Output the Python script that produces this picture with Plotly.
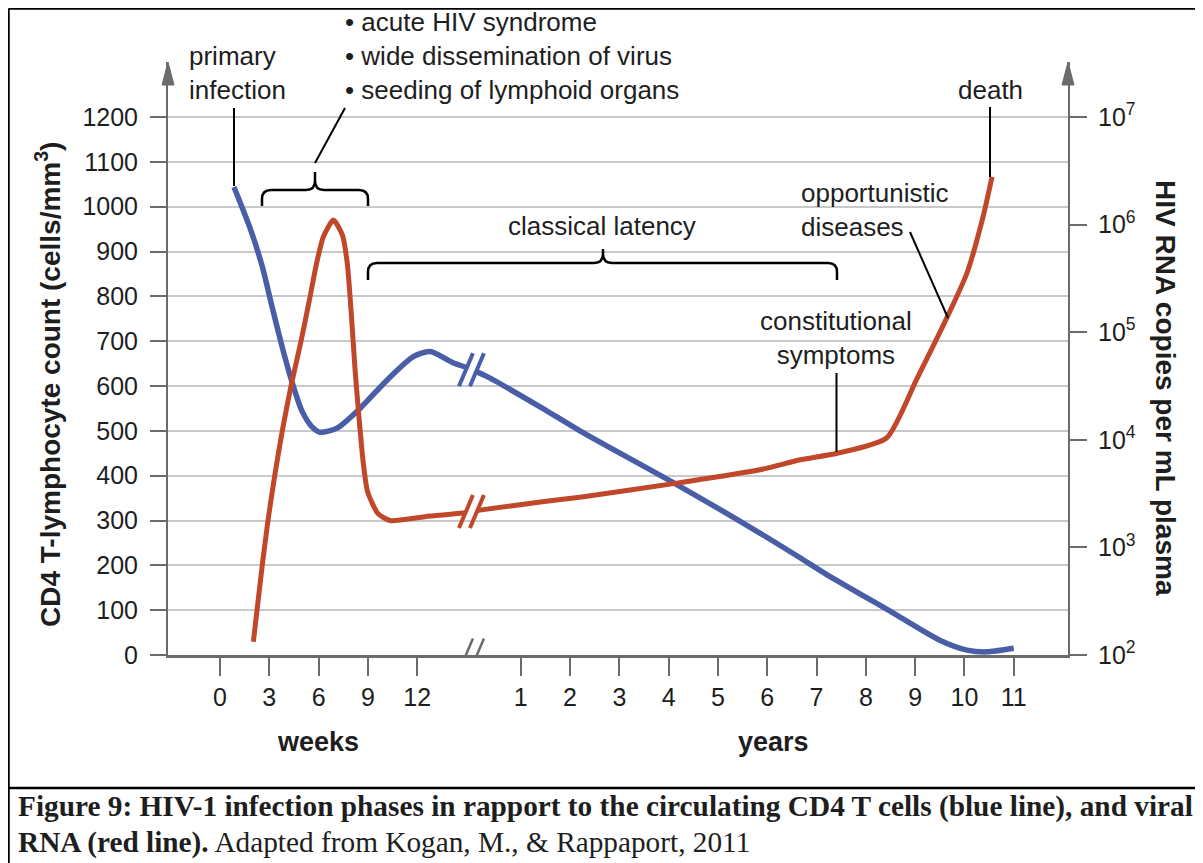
"""HIV-1 infection phases: CD4 T cells vs viral RNA"""

import numpy as np
import plotly.graph_objects as go

# axis ticks
week_ticks = [0, 3, 6, 9, 12]
year_ticks = [1, 2, 3, 4, 5, 6, 7, 8, 9, 10, 11]
cd4_ticks = list(range(0, 1300, 100))
rna_ticks = [1e2, 1e3, 1e4, 1e5, 1e6, 1e7]

# CD4 T-lymphocyte count (cells/mm3) – acute phase in weeks, then years
cd4_weeks = [0.85, 1.83, 2.56, 3.16, 3.77, 4.38, 4.99, 5.6, 6.09, 7.12, 8.52, 10.16, 11.74, 12.78, 14.18, 15.0]
cd4_weeks_count = [1044, 952, 868, 778, 689, 609, 544, 509, 497, 506, 550, 613, 665, 677, 652, 641]
cd4_years = [0.3, 1.4, 2.2, 4.2, 5.85, 6.65, 7.2, 8.55, 9.5, 10.05, 10.45, 11.0]
cd4_years_count = [622, 553, 500, 378, 272, 218, 180, 94, 33, 11, 7, 15]

# HIV RNA copies per mL plasma
rna_weeks = [2.03, 2.57, 2.92, 3.33, 3.79, 4.32, 4.93, 5.48, 5.88, 6.29, 6.9, 7.45, 7.75, 8.0,
             8.22, 8.42, 8.72, 8.98, 9.6, 10.34, 12.35, 15.0]
rna_weeks_copies = [133, 681, 1778, 4642, 12100, 31600, 82500, 213400, 438500, 772000, 1101000,
                    800000, 430000, 140000, 44670, 18840, 6070, 3300, 2074, 1778, 1920, 2113]
rna_years = [0.17, 1.4, 2.2, 4.2, 5.85, 6.65, 7.42, 8.42, 9.03, 9.64, 10.05, 10.38, 10.56]
rna_years_copies = [2220, 2640, 2930, 3980, 5260, 6490, 7500, 10400, 36500, 135000, 353000,
                    1190000, 2780000]

BLUE = "#4a5ea8"
RED = "#c0472a"
AXIS = "#6b6b6b"
GRID = "#c9c9c9"
INK = "#1e1e1e"

PAGE = 8                 # browser body margin around the figure
W, H = 1203 - PAGE, 863 - PAGE
L, T = 168 - PAGE, 62 - PAGE
PW, PH = 900, 593
R, B = W - L - PW, H - T - PH
UNIT = 49.3              # pixels per x unit (3 weeks / 1 year)
X0 = -52 / UNIT          # left axis sits 52px left of week 0
YEAR_OFFSET = 5.1        # x position of year 0, right at the axis break
BREAK_POS = 5.1
Y_TOP = 1200 * PH / 538
DECADES = 5 * PH / 538
CD4_PER_DECADE = Y_TOP / DECADES


# page pixel -> paper coordinates
def px(x):
    return (x - 168) / PW


def py(y):
    return (655 - y) / PH


cd4_pos = np.concatenate([np.array(cd4_weeks) / 3, np.array(cd4_years) + YEAR_OFFSET])
cd4_all = np.concatenate([cd4_weeks_count, cd4_years_count])
rna_pos = np.concatenate([np.array(rna_weeks) / 3, np.array(rna_years) + YEAR_OFFSET])
rna_all = np.concatenate([rna_weeks_copies, rna_years_copies])

fig = go.Figure()
fig.add_trace(go.Scatter(
    x=cd4_pos, y=cd4_all, mode="lines",
    line=dict(color=BLUE, width=5.5, shape="spline", smoothing=0.7),
    name="CD4", showlegend=False,
))
fig.add_trace(go.Scatter(
    x=rna_pos, y=rna_all, mode="lines", yaxis="y2",
    line=dict(color=RED, width=5, shape="spline", smoothing=0.6),
    name="RNA", showlegend=False,
))

shapes = []


def seg(x0, y0, x1, y1, color="black", width=2):
    shapes.append(dict(type="line", xref="paper", yref="paper",
                       x0=px(x0), y0=py(y0), x1=px(x1), y1=py(y1),
                       line=dict(color=color, width=width), layer="above"))


def brace(x0, x1, xm, yl, yend, ytip, r=9):
    pts = [("M", x0, yend), ("L", x0, yl + r), ("Q", x0, yl, x0 + r, yl), ("L", xm - r, yl),
           ("Q", xm, yl, xm, yl - r), ("L", xm, ytip), ("L", xm, yl - r),
           ("Q", xm, yl, xm + r, yl), ("L", x1 - r, yl), ("Q", x1, yl, x1, yl + r), ("L", x1, yend)]
    path = ""
    for p in pts:
        cmd, coords = p[0], p[1:]
        xy = [f"{px(coords[i]):.5f},{py(coords[i + 1]):.5f}" for i in range(0, len(coords), 2)]
        path += cmd + " ".join(xy) + " "
    shapes.append(dict(type="path", xref="paper", yref="paper", path=path.strip(),
                       line=dict(color="black", width=2.5), layer="above"))


def arrowhead(xc):
    path = f"M{px(xc - 6)},{py(85)} L{px(xc)},{py(62)} L{px(xc + 6)},{py(85)} Z"
    shapes.append(dict(type="path", xref="paper", yref="paper", path=path,
                       fillcolor=AXIS, line=dict(color=AXIS, width=1), layer="above"))


def break_marks(yval, color, width):
    common = dict(xref="x", yref="y", xsizemode="pixel", ysizemode="pixel",
                  xanchor=BREAK_POS, yanchor=yval, layer="above")
    shapes.append(dict(type="line", x0=-3.5, y0=-7, x1=3.5, y1=7,
                       line=dict(color="white", width=7), **common))
    for dx in (-5.5, 5.5):
        shapes.append(dict(type="line", x0=dx - 7, y0=-16.5, x1=dx + 7, y1=16.5,
                           line=dict(color=color, width=width), **common))


# axis arrows
arrowhead(168)
arrowhead(1068)

# axis breaks
blue_break = float(np.interp(BREAK_POS, cd4_pos, cd4_all))
red_break = (float(np.interp(BREAK_POS, rna_pos, np.log10(rna_all))) - 2) * CD4_PER_DECADE
break_marks(blue_break, BLUE, 4)
break_marks(red_break, RED, 4)
break_marks(0, AXIS, 2.5)

# leaders and braces
seg(234, 108, 234, 186)
seg(345, 108, 315, 163)
seg(910, 232, 948, 318)
seg(836.5, 373, 836.5, 452)
seg(990, 107, 990, 177)
brace(262, 368, 315, 190, 206, 172)
brace(368, 837, 603, 263, 280, 249)

# frame
seg(8.5, 8.5, 1203, 8.5, "black", 2.5)
seg(8.5, 8.5, 8.5, 863, "black", 2.5)
seg(8.5, 788, 1203, 788, "black", 2.5)

annotations = []


def label(text, x, y, size=26, xanchor="center", align="center", bold=False, family="Liberation Sans",
          angle=0):
    annotations.append(dict(
        text=f"<b>{text}</b>" if bold else text, x=px(x), y=py(y), xref="paper", yref="paper",
        xanchor=xanchor, yanchor="middle", align=align, showarrow=False, textangle=angle,
        font=dict(size=size, color=INK, family=family),
    ))


label("primary<br>infection", 187, 73, xanchor="left", align="left")
label("• acute HIV syndrome<br>• wide dissemination of virus<br>• seeding of lymphoid organs",
      343, 56, xanchor="left", align="left")
label("classical latency", 602, 226)
label("opportunistic<br>diseases", 799, 210, xanchor="left", align="left")
label("constitutional<br>symptoms", 836, 338)
label("death", 990, 90)
label("weeks", 318, 742, size=27, bold=True)
label("years", 773, 742, size=27, bold=True)
label("CD4 T-lymphocyte count (cells/mm<sup>3</sup>)", 48, 385, size=28, bold=True, angle=-90)
label("HIV RNA copies per mL plasma", 1166, 388, size=28, bold=True, angle=90)
label("<b>Figure 9: HIV-1 infection phases in rapport to the circulating CD4 T cells (blue line), and viral</b>",
      16, 806, size=29.3, xanchor="left", align="left", family="Liberation Serif")
label("<b>RNA (red line).</b> Adapted from Kogan, M., & Rappaport, 2011",
      16, 842, size=29.3, xanchor="left", align="left", family="Liberation Serif")

fig.update_layout(
    width=W, height=H,
    margin=dict(l=L, r=R, t=T, b=B),
    paper_bgcolor="white", plot_bgcolor="white",
    font=dict(family="Liberation Sans", color=INK),
    showlegend=False,
    shapes=shapes,
    annotations=annotations,
    xaxis=dict(
        range=[X0, X0 + PW / UNIT],
        tickvals=[w / 3 for w in week_ticks] + [yr + YEAR_OFFSET for yr in year_ticks],
        ticktext=[str(w) for w in week_ticks] + [str(yr) for yr in year_ticks],
        showgrid=False, zeroline=False,
        showline=True, linecolor=AXIS, linewidth=2.5,
        ticks="outside", ticklen=18, tickwidth=2, tickcolor=AXIS,
        ticklabelstandoff=0,
        tickfont=dict(size=25, color=INK),
    ),
    yaxis=dict(
        range=[0, Y_TOP],
        tickvals=cd4_ticks,
        showgrid=True, gridcolor=GRID, gridwidth=2, zeroline=False,
        showline=True, linecolor=AXIS, linewidth=2,
        ticks="outside", ticklen=16, tickwidth=2, tickcolor=AXIS,
        ticklabelstandoff=7,
        tickfont=dict(size=25, color=INK),
    ),
    yaxis2=dict(
        type="log", overlaying="y", side="right",
        range=[2, 2 + DECADES],
        tickvals=rna_ticks,
        ticktext=[f"10<sup>{int(np.log10(v))}</sup>" for v in rna_ticks],
        showgrid=False, zeroline=False,
        showline=True, linecolor=AXIS, linewidth=2,
        ticks="outside", ticklen=17, tickwidth=2, tickcolor=AXIS,
        ticklabelstandoff=6,
        tickfont=dict(size=25, color=INK),
    ),
)

fig.write_html("out.html")
